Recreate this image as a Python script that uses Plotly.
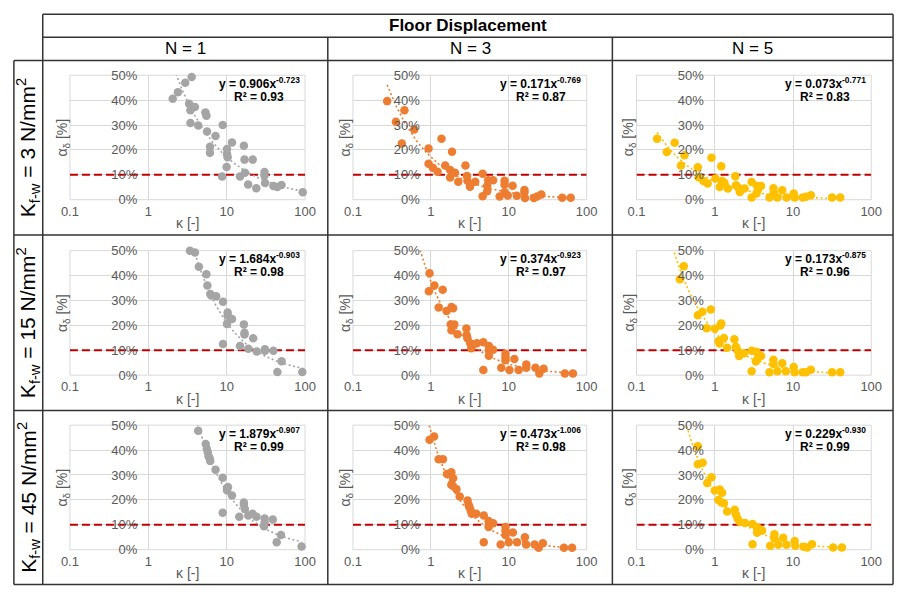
import numpy as np
import plotly.graph_objects as go

W, H = 906, 594
FONT = "Liberation Sans, Arial, sans-serif"

# ---------------------------------------------------------------- data
storeys = ["1", "3", "5"]
stiffness = ["3", "15", "45"]
series_colors = ["#A5A5A5", "#ED7D31", "#FFC000"]
kappa_ticks = [0.1, 1, 10, 100]
kappa_tick_text = ["0.1", "1", "10", "100"]
alpha_ticks = [0, 10, 20, 30, 40, 50]
alpha_tick_text = ["0%", "10%", "20%", "30%", "40%", "50%"]
threshold = 10  # alpha limit, %

# K_f-w = 3 N/mm2
kappa_k3_n1 = [2.05, 2.39, 2.96, 3.58, 3.32, 3.45, 3.94, 3.45, 4.34, 5.36, 5.52, 5.62,
               6.13, 6.13, 7.21, 8.91, 8.75, 10.1, 10.1, 10.3, 10.0, 11.7, 14.8, 16.6,
               16.9, 17.1, 18.8, 21.5, 23.9, 30.4, 30.4, 30.9, 39.5, 44.3, 50.1, 93.5]
alpha_k3_n1 = [40.6, 43.2, 47.0, 49.3, 38.5, 35.9, 37.2, 30.8, 29.8, 35.0, 33.7, 27.4,
               21.3, 18.9, 25.6, 30.0, 9.3, 20.4, 18.4, 17.1, 13.1, 23.0, 9.3, 21.7,
               16.1, 10.8, 6.1, 16.1, 4.6, 11.1, 9.7, 6.7, 5.5, 5.1, 5.9, 3.0]

kappa_k3_n3 = [0.275, 0.356, 0.458, 0.424, 0.612, 0.935, 0.935, 1.06, 1.22, 1.37, 1.53,
               1.77, 1.77, 1.87, 2.04, 2.25, 2.78, 2.91, 2.95, 3.18, 3.71, 4.62, 4.62,
               5.29, 5.29, 5.45, 6.3, 7.64, 8.83, 8.83, 8.83, 9.71, 11.2, 12.7, 15.9,
               15.9, 16.2, 21.0, 23.1, 26.2, 48.5, 62.4]
alpha_k3_n3 = [39.6, 31.3, 35.9, 22.6, 28.2, 20.6, 14.4, 12.8, 11.2, 24.5, 13.7,
               11.9, 8.9, 19.3, 10.8, 7.2, 13.7, 9.5, 7.6, 5.2, 7.2, 10.4, 1.4,
               5.6, 3.4, 7.8, 7.8, 1.3, 7.6, 6.0, 3.0, 1.7, 5.6, 1.6, 3.9,
               3.0, 0.7, 0.7, 1.3, 2.1, 0.8, 0.8]

kappa_k3_n5 = [0.183, 0.244, 0.307, 0.369, 0.41, 0.607, 0.62, 0.715, 0.81, 0.908, 1.02,
               1.155, 1.21, 1.24, 1.33, 1.47, 1.83, 1.87, 2.01, 2.09, 2.41, 2.96, 2.96,
               3.41, 3.48, 3.55, 3.91, 5.01, 5.62, 5.7, 6.31, 7.29, 8.26, 10.2, 10.5,
               13.3, 14.7, 16.9, 31.6, 40.2]
alpha_k3_n5 = [24.5, 19.2, 22.9, 13.7, 17.9, 13.0, 9.0, 7.5, 6.5, 16.9, 8.5,
               5.1, 13.4, 7.5, 6.8, 4.5, 9.4, 5.8, 4.8, 3.1, 4.5, 7.1, 0.9,
               2.5, 5.5, 3.9, 5.5, 0.9, 4.6, 2.9, 0.9, 3.8, 0.9, 2.5, 0.9,
               0.9, 1.2, 1.8, 0.9, 0.9]

# K_f-w = 15 N/mm2
kappa_k15_n1 = [3.40, 3.94, 4.42, 5.51, 5.68, 6.18, 6.36, 7.35, 8.99, 8.99, 10.3, 10.3,
                10.1, 11.7, 14.8, 16.6, 16.9, 16.9, 18.9, 21.8, 24.2, 30.8, 30.8, 39.5,
                44.4, 50.2, 92.3]
alpha_k15_n1 = [50.0, 49.3, 43.5, 40.5, 36.0, 32.6, 32.0, 31.7, 29.5, 12.5, 25.2, 23.9,
                20.6, 22.6, 11.7, 20.4, 17.0, 16.3, 10.6, 14.8, 9.5, 10.4, 9.8, 9.8,
                1.3, 5.6, 1.3]

kappa_k15_n3 = [0.944, 0.962, 1.11, 1.42, 1.26, 1.59, 1.84, 1.93, 1.80, 1.84, 2.0, 2.20,
                2.86, 2.88, 2.95, 3.2, 3.3, 3.89, 4.72, 4.72, 5.56, 5.56, 5.56, 6.3,
                8.02, 9.08, 9.08, 9.08, 10.2, 11.8, 13.4, 16.8, 16.8, 22.0, 24.7, 28.0,
                52.5, 66.7]
alpha_k15_n3 = [33.7, 40.9, 36.0, 34.3, 27.2, 25.8, 27.4, 26.9, 20.4, 18.0, 20.4, 16.4,
                18.7, 16.1, 14.8, 12.8, 10.8, 12.8, 13.2, 2.1, 11.7, 9.9, 7.8, 10.2,
                3.0, 8.6, 7.2, 6.0, 2.1, 6.5, 2.1, 4.3, 3.0, 3.0, 0.7, 2.6,
                0.7, 0.7]

kappa_k15_n5 = [0.358, 0.402, 0.607, 0.695, 0.787, 0.891, 1.0, 1.12, 1.15, 1.18, 1.21,
                1.31, 1.44, 1.78, 1.87, 1.96, 2.05, 2.37, 2.96, 2.96, 3.41, 3.35, 3.55,
                3.91, 5.01, 5.62, 5.62, 6.31, 7.29, 8.09, 10.2, 10.5, 13.3, 14.7, 16.9,
                31.6, 40.2]
alpha_k15_n5 = [38.5, 43.7, 24.1, 25.5, 18.8, 26.4, 18.6, 13.7, 12.7, 19.9, 20.8,
                14.9, 11.0, 14.4, 11.4, 9.8, 7.7, 8.8, 9.8, 1.6, 9.4, 5.5, 6.8,
                7.7, 1.2, 6.2, 4.5, 1.6, 4.8, 1.6, 3.3, 1.2, 1.2, 1.2, 2.2,
                1.2, 1.2]

# K_f-w = 45 N/mm2
kappa_k45_n1 = [4.33, 5.41, 5.58, 5.74, 5.86, 6.07, 6.17, 7.22, 8.91, 8.91, 10.1, 10.1,
                10.4, 11.7, 14.5, 16.6, 16.6, 17.1, 18.9, 21.4, 24.0, 30.5, 30.5, 30.0,
                38.8, 43.5, 49.3, 90.4]
alpha_k45_n1 = [47.8, 42.4, 40.5, 39.2, 37.6, 36.6, 35.6, 32.1, 28.9, 14.8, 24.8, 23.9,
                25.2, 21.7, 13.2, 18.9, 18.0, 16.3, 13.7, 14.4, 13.2, 12.5, 10.8, 9.4,
                12.1, 3.0, 5.9, 1.3]

kappa_k45_n3 = [0.962, 1.10, 1.26, 1.43, 1.61, 1.83, 1.93, 1.83, 1.93, 2.13, 2.35,
                2.96, 3.05, 3.14, 3.25, 3.35, 3.83, 4.78, 4.78, 5.52, 5.52, 5.6, 6.3,
                7.87, 9.08, 9.08, 9.08, 10.0, 11.3, 12.8, 16.1, 16.7, 21.5, 24.2, 27.4,
                51.1, 65.0]
alpha_k45_n3 = [44.1, 45.4, 36.3, 36.3, 30.4, 31.1, 28.7, 26.1, 25.6, 24.3, 21.3,
                19.7, 18.0, 17.0, 15.7, 14.4, 14.4, 13.7, 3.0, 11.5, 9.1, 10.4, 10.6,
                2.1, 9.1, 7.6, 5.9, 3.0, 6.9, 3.0, 5.0, 2.1, 2.1, 0.8, 2.6,
                0.8, 0.8]

kappa_k45_n5 = [0.607, 0.607, 0.70, 0.80, 0.91, 1.0, 1.11, 1.16, 1.21, 1.24, 1.31,
                1.44, 1.80, 1.87, 1.96, 2.10, 2.44, 3.04, 3.04, 3.48, 3.48, 3.7, 4.02,
                5.11, 5.79, 5.79, 6.49, 7.5, 8.26, 10.5, 10.7, 13.7, 15.2, 17.5, 32.6,
                42.2]
alpha_k45_n5 = [41.5, 34.3, 34.9, 26.8, 29.1, 23.8, 19.9, 24.2, 19.0, 22.9, 18.6,
                15.3, 16.0, 14.0, 12.4, 11.1, 10.7, 10.3, 2.2, 9.0, 6.8, 8.1, 7.7,
                1.6, 6.2, 4.5, 2.0, 4.8, 2.0, 3.5, 1.6, 1.2, 0.9, 2.2, 0.9,
                0.9]

kappa_data = [[kappa_k3_n1, kappa_k3_n3, kappa_k3_n5],
              [kappa_k15_n1, kappa_k15_n3, kappa_k15_n5],
              [kappa_k45_n1, kappa_k45_n3, kappa_k45_n5]]
alpha_data = [[alpha_k3_n1, alpha_k3_n3, alpha_k3_n5],
              [alpha_k15_n1, alpha_k15_n3, alpha_k15_n5],
              [alpha_k45_n1, alpha_k45_n3, alpha_k45_n5]]

# power-law fits  alpha = a * kappa^b  (alpha as a fraction)
fit_a = [[0.906, 0.171, 0.073], [1.684, 0.374, 0.173], [1.879, 0.473, 0.229]]
fit_b = [[-0.723, -0.769, -0.771], [-0.903, -0.923, -0.875], [-0.907, -1.006, -0.930]]
fit_r2 = [[0.93, 0.87, 0.83], [0.98, 0.97, 0.96], [0.99, 0.98, 0.99]]
fit_kappa_range = [[(2.05, 93.5), (0.275, 62.4), (0.183, 40.2)],
                   [(3.40, 92.3), (0.70, 66.7), (0.28, 40.2)],
                   [(4.25, 90.4), (0.95, 65.0), (0.42, 42.2)]]

# ---------------------------------------------------------------- layout (pixels)
col_px = [(62.3, 302.7), (351.7, 590.7), (641.7, 881.7)]
row_px = [(70.0, 197.7), (250.0, 377.7), (429.0, 556.7)]
grid_color = "#D9D9D9"
label_color = "#595959"
frame_color = "#333333"


def fx(x):
    return x / W


def fy(y):
    return 1 - y / H


fig = go.Figure()
annotations = []
shapes = []
axes = {}

for r in range(3):
    for c in range(3):
        k = r * 3 + c + 1
        sfx = "" if k == 1 else str(k)
        xref, yref = "x" + sfx, "y" + sfx
        x0, x1 = col_px[c]
        y0, y1 = row_px[r]
        x_at_one = x0 + (x1 - x0) / 3.0

        axes["xaxis" + sfx] = dict(
            type="log", range=[-1, 2], domain=[fx(x0), fx(x1)], anchor=yref,
            tickvals=kappa_ticks, ticktext=kappa_tick_text,
            showgrid=True, gridcolor=grid_color, gridwidth=1,
            zeroline=False, showline=False, ticks="",
            tickfont=dict(family=FONT, size=13, color=label_color),
            ticklabelstandoff=2,
        )
        # vertical axis crosses the log axis at kappa = 1
        axes["yaxis" + sfx] = dict(
            range=[0, 50], domain=[fy(y1), fy(y0)], anchor="free",
            position=fx(x_at_one), tickvals=alpha_ticks, ticktext=alpha_tick_text,
            showgrid=True, gridcolor=grid_color, gridwidth=1,
            zeroline=False, showline=False, ticks="",
            tickfont=dict(family=FONT, size=13, color=label_color),
            ticklabelstandoff=11,
        )

        # plot-area outline
        shapes.append(dict(type="rect", xref=xref + " domain", yref=yref + " domain",
                           x0=0, x1=1, y0=0, y1=1,
                           line=dict(color=grid_color, width=1), layer="below"))

        # 10 % limit
        fig.add_trace(go.Scatter(
            x=[kappa_ticks[0], kappa_ticks[-1]], y=[threshold, threshold],
            mode="lines", line=dict(color="#C00000", width=2, dash="8px,4px"),
            xaxis=xref, yaxis=yref, showlegend=False, hoverinfo="skip"))

        # data points
        fig.add_trace(go.Scatter(
            x=kappa_data[r][c], y=alpha_data[r][c], mode="markers",
            marker=dict(color=series_colors[c], size=8.5, line=dict(width=0)),
            xaxis=xref, yaxis=yref, showlegend=False, cliponaxis=False))

        # power trendline
        lo, hi = fit_kappa_range[r][c]
        kk = np.logspace(np.log10(lo), np.log10(hi), 200)
        fig.add_trace(go.Scatter(
            x=kk, y=100 * fit_a[r][c] * kk ** fit_b[r][c], mode="lines",
            line=dict(color=series_colors[c], width=1.6, dash="2px,2.5px"),
            xaxis=xref, yaxis=yref, showlegend=False, hoverinfo="skip"))

        # trendline equation
        eq_x = x1 - 47
        annotations.append(dict(
            x=fx(eq_x), y=fy(y0 + 8), xref="paper", yref="paper",
            text="<b>y = %.3fx<sup>%.3f</sup></b>" % (fit_a[r][c], fit_b[r][c]),
            showarrow=False, xanchor="center", yanchor="middle",
            font=dict(family=FONT, size=12, color="#000000")))
        annotations.append(dict(
            x=fx(eq_x), y=fy(y0 + 22), xref="paper", yref="paper",
            text="<b>R² = %.2f</b>" % fit_r2[r][c],
            showarrow=False, xanchor="center", yanchor="middle",
            font=dict(family=FONT, size=12, color="#000000")))

        # axis titles
        annotations.append(dict(
            x=fx(x0 - 7), y=fy((y0 + y1) / 2), xref="paper", yref="paper",
            text="α<sub>δ</sub> [%]", textangle=-90, showarrow=False,
            xanchor="center", yanchor="middle",
            font=dict(family=FONT, size=14, color=label_color)))
        annotations.append(dict(
            x=fx((x0 + x1) / 2), y=fy(y1 + 24), xref="paper", yref="paper",
            text="κ [-]", showarrow=False, xanchor="center", yanchor="middle",
            font=dict(family=FONT, size=14, color=label_color)))

# ---------------------------------------------------------------- table frame
col_edges = [34.5, 326.0, 617.0, 904.0]
row_edges = [55.0, 234.0, 414.0, 592.5]
top, mid = 7.5, 31.0
left = 5.0


def hline(y, xa, xb):
    shapes.append(dict(type="line", xref="paper", yref="paper",
                       x0=fx(xa), x1=fx(xb), y0=fy(y), y1=fy(y),
                       line=dict(color=frame_color, width=1.5)))


def vline(x, ya, yb):
    shapes.append(dict(type="line", xref="paper", yref="paper",
                       x0=fx(x), x1=fx(x), y0=fy(ya), y1=fy(yb),
                       line=dict(color=frame_color, width=1.5)))


hline(top, col_edges[0], col_edges[-1])
hline(mid, col_edges[0], col_edges[-1])
for ry in row_edges:
    hline(ry, left, col_edges[-1])
vline(left, row_edges[0], row_edges[-1])
vline(col_edges[0], top, row_edges[-1])
vline(col_edges[-1], top, row_edges[-1])
for cx in col_edges[1:-1]:
    vline(cx, mid, row_edges[-1])

annotations.append(dict(
    x=fx((col_edges[0] + col_edges[-1]) / 2), y=fy((top + mid) / 2),
    xref="paper", yref="paper", text="<b>Floor Displacement</b>", showarrow=False,
    xanchor="center", yanchor="middle", font=dict(family=FONT, size=17, color="#000000")))

for c in range(3):
    annotations.append(dict(
        x=fx((col_edges[c] + col_edges[c + 1]) / 2), y=fy((mid + row_edges[0]) / 2),
        xref="paper", yref="paper", text="N = " + storeys[c], showarrow=False,
        xanchor="center", yanchor="middle", font=dict(family=FONT, size=17, color="#000000")))

for r in range(3):
    annotations.append(dict(
        x=fx((left + col_edges[0]) / 2), y=fy((row_edges[r] + row_edges[r + 1]) / 2),
        xref="paper", yref="paper",
        text="K<sub>f-w</sub> = " + stiffness[r] + " N/mm<sup>2</sup>",
        textangle=-90, showarrow=False, xanchor="center", yanchor="middle",
        font=dict(family=FONT, size=21, color="#000000")))

fig.update_layout(
    width=W, height=H, margin=dict(l=0, r=0, t=0, b=0),
    paper_bgcolor="white", plot_bgcolor="white",
    annotations=annotations, shapes=shapes, showlegend=False,
    **axes,
)

fig.write_html("out.html")
